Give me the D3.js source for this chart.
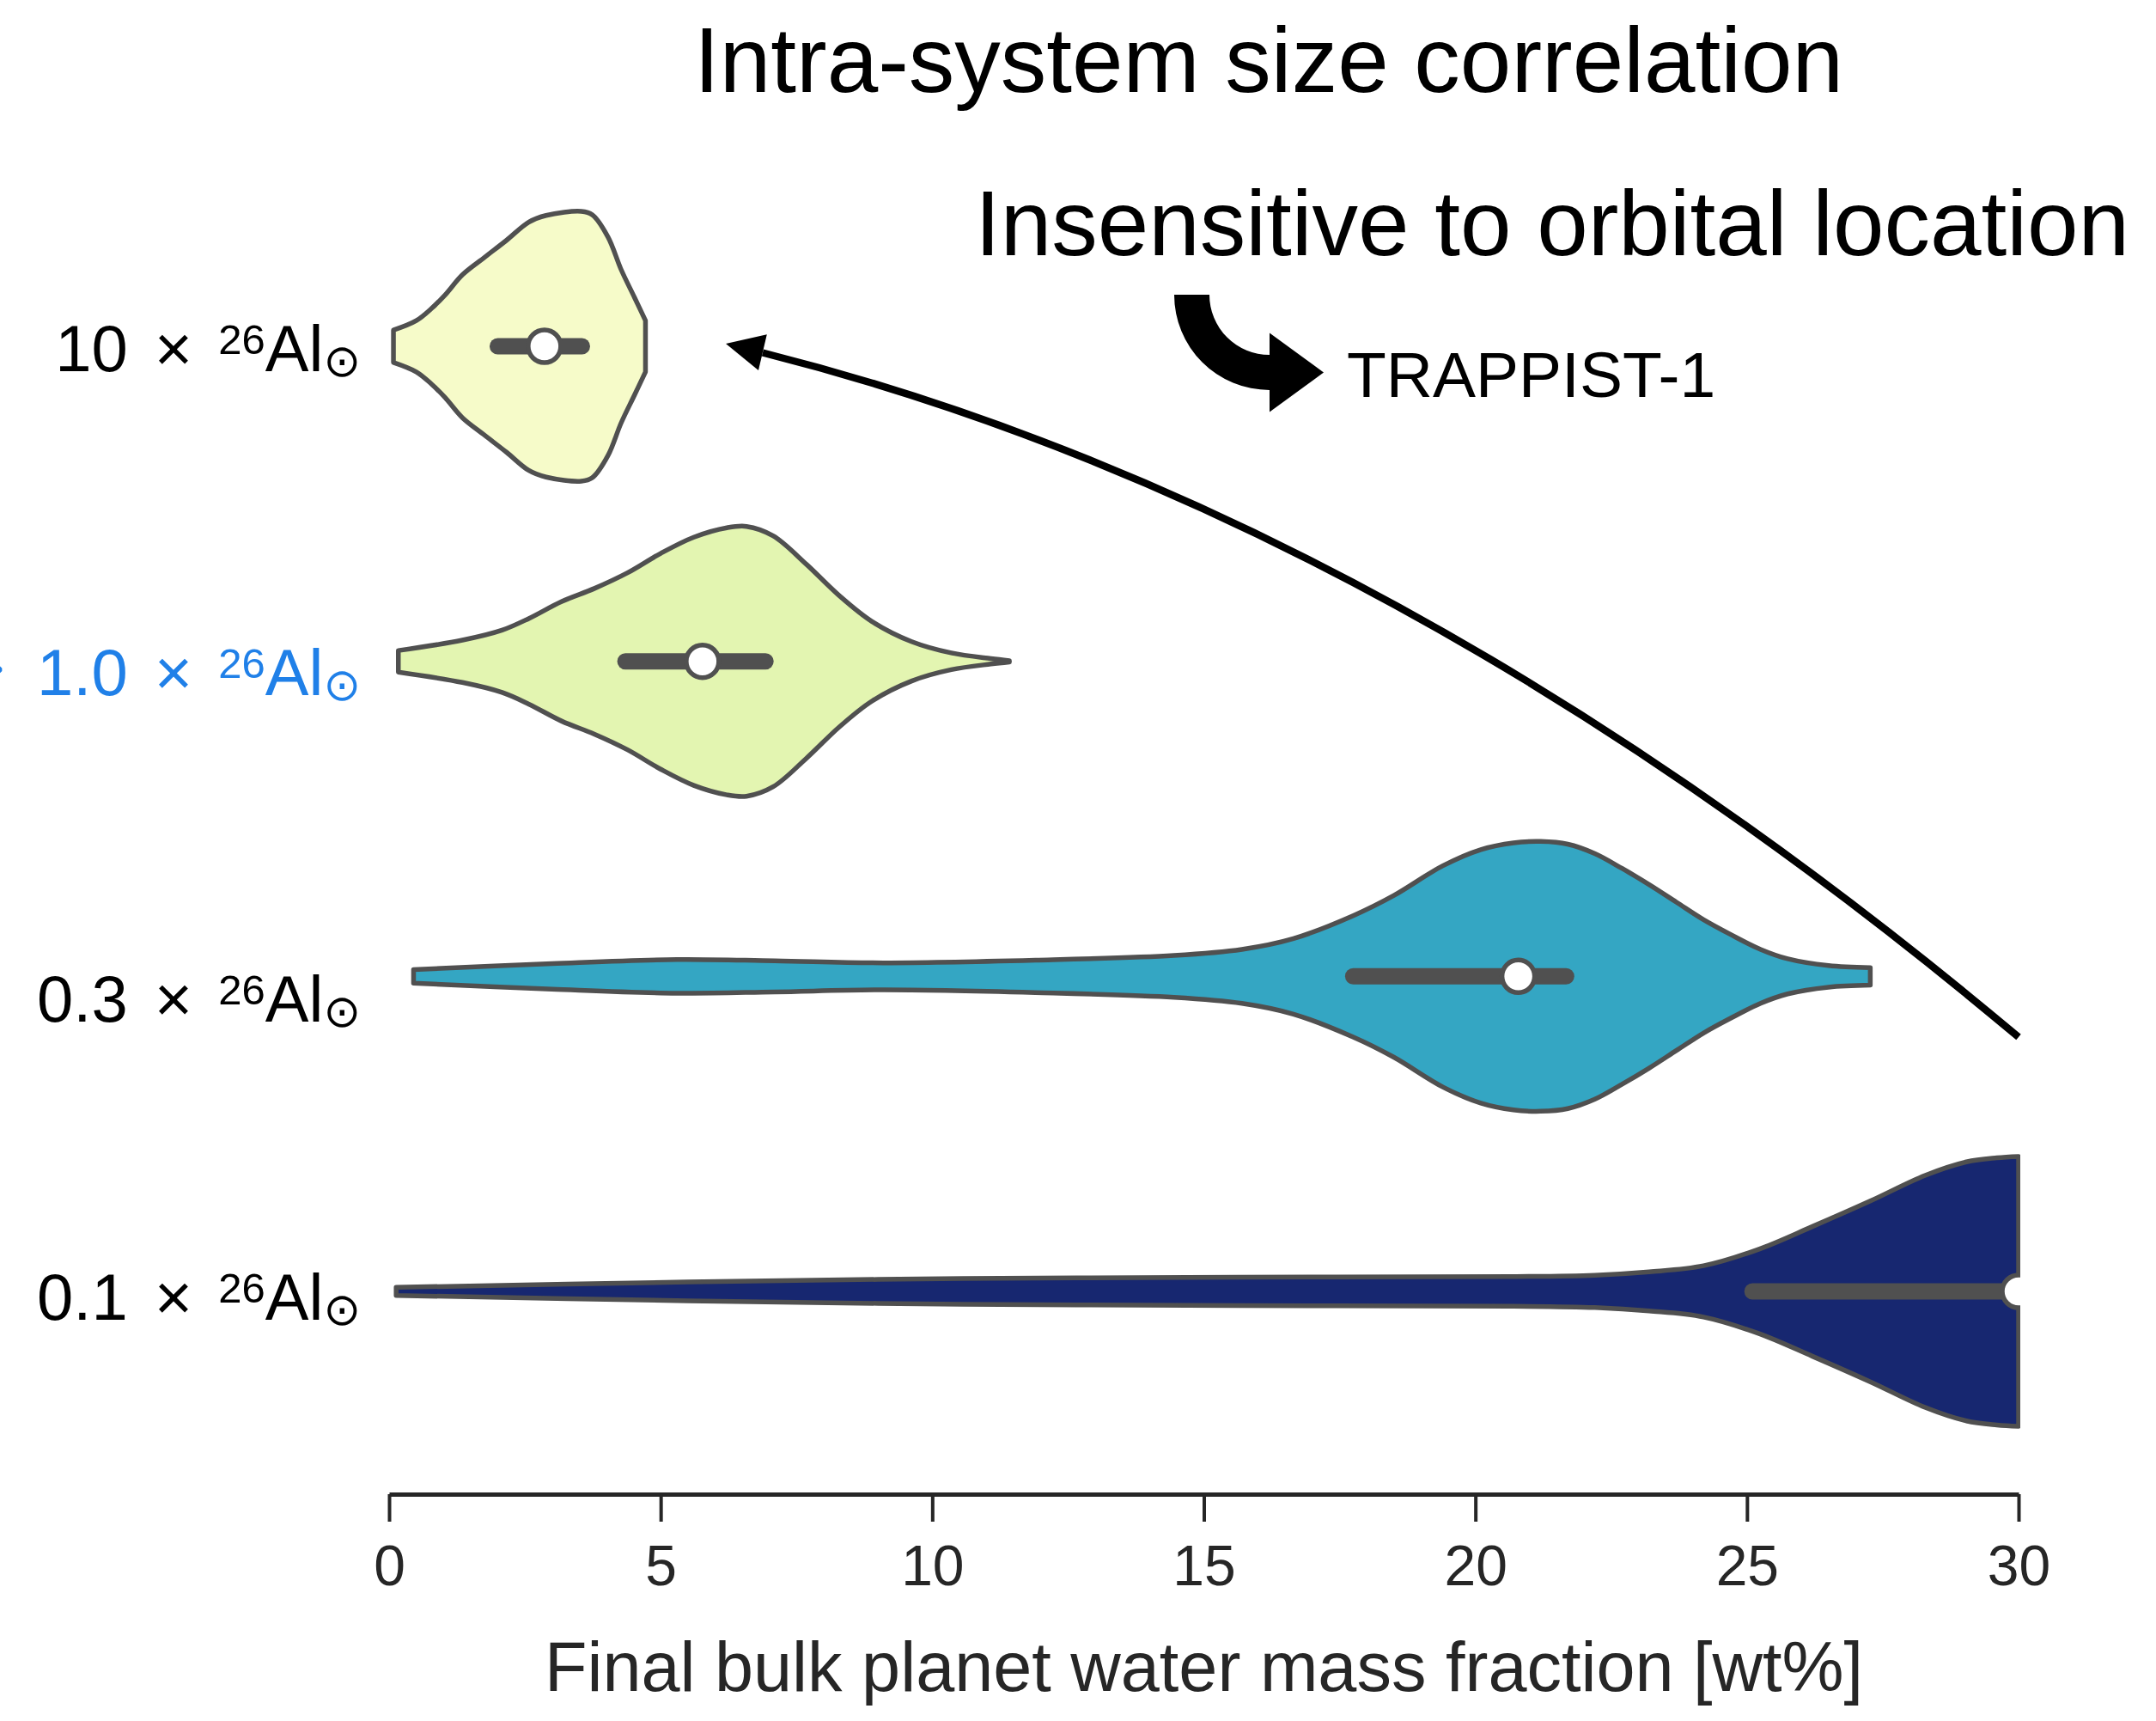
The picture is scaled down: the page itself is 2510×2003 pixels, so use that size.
<!DOCTYPE html>
<html>
<head>
<meta charset="utf-8">
<script src="https://cdn.jsdelivr.net/npm/d3@7"></script>
<style>
  html, body { margin: 0; padding: 0; background: #ffffff; }
  svg { display: block; }
</style>
</head>
<body>
<svg id="chart" width="2510" height="2003"></svg>
<script>
// Rows, top to bottom: 26Al abundance relative to the Solar System value
const categories = ["10", "1.0", "0.3", "0.1"];
const fills = ["#f6fbc9", "#e3f5b1", "#34a6c3", "#172770"];
const labelColors = ["#000000", "#2080e8", "#000000", "#000000"];

// Violin outlines: [water mass fraction (wt%), half-width relative to the widest point]
const profile10 = [[0.08, 0.12], [0.50, 0.19], [0.78, 0.28], [1.03, 0.38], [1.35, 0.53], [1.76, 0.66],
  [2.16, 0.785], [2.57, 0.92], [2.89, 0.97], [3.54, 1.0], [3.74, 0.975], [4.03, 0.81], [4.27, 0.57],
  [4.52, 0.36], [4.72, 0.19]];
const profile1 = [[0.17, 0.08], [1.35, 0.157], [2.08, 0.231], [2.57, 0.317], [3.18, 0.444], [3.78, 0.54],
  [4.39, 0.656], [5.0, 0.80], [5.61, 0.92], [6.22, 0.99], [6.58, 1.0], [7.07, 0.93], [7.68, 0.72],
  [8.29, 0.486], [8.89, 0.295], [9.62, 0.146], [10.35, 0.062], [11.08, 0.02], [11.42, 0.005]];
const profile03 = [[0.45, 0.05], [3.0, 0.095], [5.3, 0.125], [7.1, 0.115], [9.1, 0.10], [11.9, 0.12],
  [14.45, 0.155], [15.7, 0.2], [16.65, 0.28], [17.75, 0.45], [18.5, 0.6], [19.4, 0.82], [20.1, 0.94],
  [20.7, 0.99], [21.2, 1.0], [21.7, 0.98], [22.2, 0.91], [22.7, 0.80], [23.2, 0.68], [23.7, 0.55],
  [24.2, 0.42], [24.7, 0.31], [25.25, 0.2], [25.75, 0.13], [26.5, 0.08], [27.27, 0.065]];
const profile01 = [[0.13, 0.03], [5.5, 0.07], [10.56, 0.095], [15.6, 0.105], [20.7, 0.11], [22.2, 0.12],
  [23.2, 0.145], [24.2, 0.19], [25.2, 0.31], [26.2, 0.48], [27.27, 0.67], [28.28, 0.86], [29.04, 0.96],
  [29.6, 0.99], [30, 1.0]];
const profiles = [profile10, profile1, profile03, profile01];

// Inner box: interquartile range and median
const q1 = [2.0, 4.35, 17.75, 25.1];
const q3 = [3.55, 6.93, 21.67, 30];
const medians = [2.86, 5.77, 20.79, 30];

const xTicks = [0, 5, 10, 15, 20, 25, 30];

const titleText = "Intra-system size correlation";
const subtitleText = "Insensitive to orbital location";
const systemText = "TRAPPIST-1";
const xLabelText = "Final bulk planet water mass fraction [wt%]";

// ---- layout ----
const sans = "'Liberation Sans', Arial, Helvetica, sans-serif";
const ink = "#262626";
const edge = "#505050";
const labelDrop = [29, 39, 53, 33];   // baseline offset of each row label below its row centre

const svg = d3.select("#chart");
const x = d3.scaleLinear().domain([0, 30]).range([453, 2350]);
const row = d3.scaleLinear().domain([0, 3]).range([403, 1503]);
const halfW = d3.scaleLinear().domain([0, 1]).range([0, 157]);

svg.append("defs").append("clipPath").attr("id", "plotClip")
  .append("rect").attr("x", 0).attr("y", 0).attr("width", x(30) + 2).attr("height", 1720);

// ---- violins ----
const plot = svg.append("g").attr("clip-path", "url(#plotClip)");
categories.forEach((c, i) => {
  const cy = row(i);
  const area = d3.area()
    .x(d => x(d[0]))
    .y0(d => cy + halfW(d[1]))
    .y1(d => cy - halfW(d[1]))
    .curve(d3.curveCatmullRom.alpha(0.5));
  plot.append("path")
    .attr("d", area(profiles[i]))
    .attr("fill", fills[i])
    .attr("stroke", edge)
    .attr("stroke-width", 5.5)
    .attr("stroke-linejoin", "round");
  plot.append("line")
    .attr("x1", x(q1[i])).attr("x2", x(q3[i]))
    .attr("y1", cy).attr("y2", cy)
    .attr("stroke", edge).attr("stroke-width", 19)
    .attr("stroke-linecap", "round");
  plot.append("circle")
    .attr("cx", x(medians[i])).attr("cy", cy).attr("r", 19)
    .attr("fill", "#ffffff").attr("stroke", edge).attr("stroke-width", 5.5);
});

// ---- row labels: "<value> × ²⁶Al⊙" ----
categories.forEach((c, i) => {
  const t = svg.append("text")
    .attr("x", 420).attr("y", row(i) + labelDrop[i])
    .attr("text-anchor", "end")
    .attr("font-family", sans).attr("font-size", 76)
    .attr("fill", labelColors[i]);
  t.append("tspan").text(c);
  t.append("tspan").attr("dx", 10).text(" \u00d7 ");
  t.append("tspan").attr("dx", 9).attr("font-size", 49).attr("dy", -20).text("26");
  t.append("tspan").attr("dy", 20).text("Al");
  t.append("tspan").attr("font-family", "'DejaVu Sans', sans-serif")
    .attr("font-size", 52).attr("dy", 6).text("\u2299");
});
// pointer to the Solar System row, running in from the left edge
svg.append("text")
  .attr("x", 6).attr("y", row(1) + 33)
  .attr("text-anchor", "end")
  .attr("font-family", "'DejaVu Sans', sans-serif").attr("font-size", 75)
  .attr("fill", labelColors[1]).text("\u2192");

// ---- x axis ----
const axisY = 1739;
const axis = svg.append("g")
  .attr("transform", `translate(0,${axisY})`)
  .call(d3.axisBottom(x).tickValues(xTicks).tickSize(32).tickSizeOuter(0).tickPadding(27));
axis.select(".domain").attr("stroke", ink).attr("stroke-width", 5);
axis.selectAll(".tick line").attr("stroke", ink).attr("stroke-width", 4);
axis.selectAll(".tick text")
  .attr("font-family", sans).attr("font-size", 66).attr("fill", ink);

svg.append("text")
  .attr("x", (x(0) + x(30)) / 2).attr("y", 1968)
  .attr("text-anchor", "middle")
  .attr("font-family", sans).attr("font-size", 81).attr("fill", ink)
  .text(xLabelText);

// ---- headings ----
svg.append("text")
  .attr("x", 1477).attr("y", 107).attr("text-anchor", "middle")
  .attr("font-family", sans).attr("font-size", 107).attr("fill", "#000")
  .text(titleText);
svg.append("text")
  .attr("x", 1807).attr("y", 297).attr("text-anchor", "middle")
  .attr("font-family", sans).attr("font-size", 107).attr("fill", "#000")
  .text(subtitleText);
svg.append("text")
  .attr("x", 1568).attr("y", 462)
  .attr("font-family", sans).attr("font-size", 75).attr("fill", "#000")
  .text(systemText);

// ---- bent arrow beside TRAPPIST-1 (quarter turn, shaft 41 px) ----
{
  const cx = 1478, cy = 343, rOut = 111, rIn = 70, headHalf = 46, tipX = 1541;
  const p = d3.path();
  p.moveTo(cx - rOut, cy);
  p.arc(cx, cy, rOut, Math.PI, Math.PI / 2, true);
  p.lineTo(cx, cy + (rOut + rIn) / 2 + headHalf);
  p.lineTo(tipX, cy + (rOut + rIn) / 2);
  p.lineTo(cx, cy + (rOut + rIn) / 2 - headHalf);
  p.lineTo(cx, cy + rIn);
  p.arc(cx, cy, rIn, Math.PI / 2, Math.PI, false);
  p.closePath();
  svg.append("path").attr("d", p.toString()).attr("fill", "#000");
}

// ---- curved arrow from the low-26Al end of the axis up to the 10x row ----
{
  const start = [x(30), row(2.193)];
  const ctrl = [x(18.16), row(0.477)];
  const tip = [x(6.2), row(-0.008)];
  const headLen = 44, headHalf = 21.5;
  const dx = tip[0] - ctrl[0], dy = tip[1] - ctrl[1];
  const len = Math.hypot(dx, dy);
  const ux = dx / len, uy = dy / len;
  // trim the quadratic curve where the head begins (de Casteljau split)
  const t = 1 - headLen / (2 * len);
  const lerp = (a, b, s) => [a[0] + (b[0] - a[0]) * s, a[1] + (b[1] - a[1]) * s];
  const c1 = lerp(start, ctrl, t);
  const c2 = lerp(ctrl, tip, t);
  const end = lerp(c1, c2, t);
  const shaft = d3.path();
  shaft.moveTo(start[0], start[1]);
  shaft.quadraticCurveTo(c1[0], c1[1], end[0], end[1]);
  svg.append("path").attr("d", shaft.toString())
    .attr("fill", "none").attr("stroke", "#000").attr("stroke-width", 8.5);
  const bx = tip[0] - ux * headLen, by = tip[1] - uy * headLen;
  svg.append("path")
    .attr("d", `M${tip[0]},${tip[1]}L${bx - uy * headHalf},${by + ux * headHalf}L${bx + uy * headHalf},${by - ux * headHalf}Z`)
    .attr("fill", "#000");
}
</script>
</body>
</html>
